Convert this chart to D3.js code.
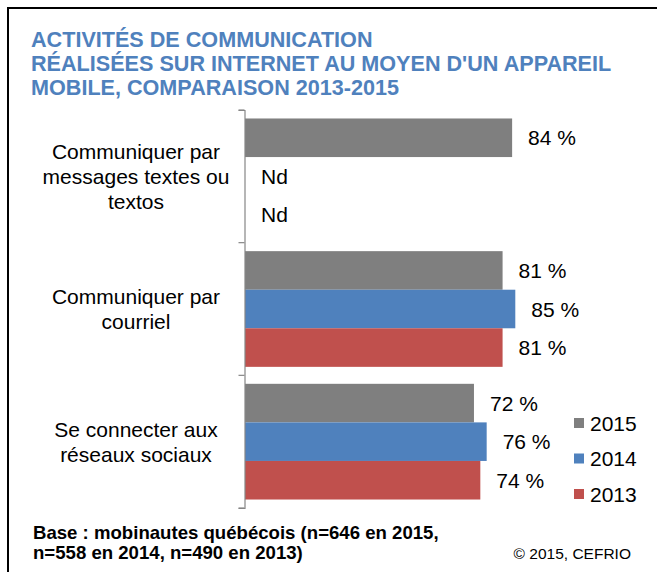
<!DOCTYPE html>
<html>
<head>
<meta charset="utf-8">
<script src="https://cdn.jsdelivr.net/npm/d3@7"></script>
<style>
  body { margin: 0; background: #fff; }
  svg { display: block; font-family: Arial, "Liberation Sans", sans-serif; }
</style>
</head>
<body>
<div id="container"></div>
<script>
// chart data
const categories = ["messages", "courriel", "reseaux"];
const categoryLines = [
  ["Communiquer par", "messages textes ou", "textos"],
  ["Communiquer par", "courriel"],
  ["Se connecter aux", "réseaux sociaux"]
];
const years = ["2015", "2014", "2013"];
const values2015 = [84, 81, 72];
const values2014 = [null, 85, 76];
const values2013 = [null, 81, 74];
const titleLines = [
  "ACTIVITÉS DE COMMUNICATION",
  "RÉALISÉES SUR INTERNET AU MOYEN D'UN APPAREIL",
  "MOBILE, COMPARAISON 2013-2015"
];
const footerLines = [
  "Base : mobinautes québécois (n=646 en 2015,",
  "n=558 en 2014, n=490 en 2013)"
];
const credit = "© 2015, CEFRIO";

const colors = { "2015": "#7f7f7f", "2014": "#4f81bd", "2013": "#c0504d" };
const seriesByYear = { "2015": values2015, "2014": values2014, "2013": values2013 };

const width = 657, height = 572;

const svg = d3.create("svg")
  .attr("width", width)
  .attr("height", height);

svg.append("rect")
  .attr("width", width)
  .attr("height", height)
  .attr("fill", "#fff");

// frame (only top and left visible)
svg.append("path")
  .attr("d", `M8,${height} L8,8 L${width},8`)
  .attr("fill", "none")
  .attr("stroke", "#000")
  .attr("stroke-width", 2);

// title
svg.append("g")
  .selectAll("text")
  .data(titleLines)
  .join("text")
  .attr("x", 31)
  .attr("y", (d, i) => 47 + i * 24)
  .style("font-size", "21.6px")
  .style("font-weight", "bold")
  .style("fill", "#4f81bd")
  .text(d => d);

// scales
const x = d3.scaleLinear()
  .domain([0, 100])
  .range([245, 563]);

const y0 = d3.scaleBand()
  .domain(categories)
  .range([110, 508]);

const y1 = d3.scaleBand()
  .domain(years)
  .range([0, y0.bandwidth()])
  .paddingOuter(0.22);

// rows of data
const rows = [];
categories.forEach((c, ci) => {
  years.forEach(yr => {
    rows.push({ cat: c, year: yr, value: seriesByYear[yr][ci] });
  });
});

// bars
const g = svg.append("g");
g.selectAll("rect.bar")
  .data(rows.filter(d => d.value != null))
  .join("rect")
  .attr("class", "bar")
  .attr("x", x(0))
  .attr("y", d => y0(d.cat) + y1(d.year))
  .attr("width", d => x(d.value) - x(0))
  .attr("height", y1.bandwidth())
  .attr("fill", d => colors[d.year]);

// value labels
g.selectAll("text.val")
  .data(rows)
  .join("text")
  .attr("class", "val")
  .attr("x", d => (d.value != null ? x(d.value) : x(0)) + 16)
  .attr("y", d => y0(d.cat) + y1(d.year) + y1.bandwidth() / 2)
  .attr("dominant-baseline", "central")
  .style("font-size", "21px")
  .style("fill", "#000")
  .text(d => d.value != null ? `${d.value} %` : "Nd");

// y axis
const axis = svg.append("g")
  .attr("transform", `translate(${x(0) - 0.5},0)`)
  .call(d3.axisLeft(y0).tickSize(6).tickFormat(""));
axis.select(".domain").attr("stroke", "#868686").attr("stroke-width", 1.2);
axis.selectAll(".tick").remove();
// ticks at band boundaries
const boundaries = categories.map(c => y0(c)).concat([y0.range()[1]]);
axis.selectAll("line.bnd")
  .data(boundaries)
  .join("line")
  .attr("class", "bnd")
  .attr("x1", -6)
  .attr("x2", 0)
  .attr("y1", d => d)
  .attr("y2", d => d)
  .attr("stroke", "#868686")
  .attr("stroke-width", 1.2);

// category labels
categories.forEach((c, ci) => {
  const lines = categoryLines[ci];
  const mid = y0(c) + y0.bandwidth() / 2;
  svg.append("g")
    .selectAll("text")
    .data(lines)
    .join("text")
    .attr("x", 136)
    .attr("y", (d, i) => mid + (i - (lines.length - 1) / 2) * 25)
    .attr("text-anchor", "middle")
    .attr("dominant-baseline", "central")
    .style("font-size", "21px")
    .style("fill", "#000")
    .text(d => d);
});

// legend
const legend = svg.append("g")
  .attr("transform", "translate(574,423)");
const li = legend.selectAll("g")
  .data(years)
  .join("g")
  .attr("transform", (d, i) => `translate(0, ${i * 35.5})`);
li.append("rect")
  .attr("x", 0)
  .attr("y", -5)
  .attr("width", 10)
  .attr("height", 10)
  .attr("fill", d => colors[d]);
li.append("text")
  .attr("x", 16)
  .attr("y", 0)
  .attr("dominant-baseline", "central")
  .style("font-size", "21px")
  .style("fill", "#000")
  .text(d => d);

// footer
svg.append("g")
  .selectAll("text")
  .data(footerLines)
  .join("text")
  .attr("x", 33)
  .attr("y", (d, i) => 539 + i * 20)
  .style("font-size", "18.6px")
  .style("font-weight", "bold")
  .style("fill", "#000")
  .text(d => d);

svg.append("text")
  .attr("x", 631)
  .attr("y", 559)
  .attr("text-anchor", "end")
  .style("font-size", "15.5px")
  .style("fill", "#000")
  .text(credit);

document.getElementById("container").append(svg.node());
</script>
</body>
</html>
